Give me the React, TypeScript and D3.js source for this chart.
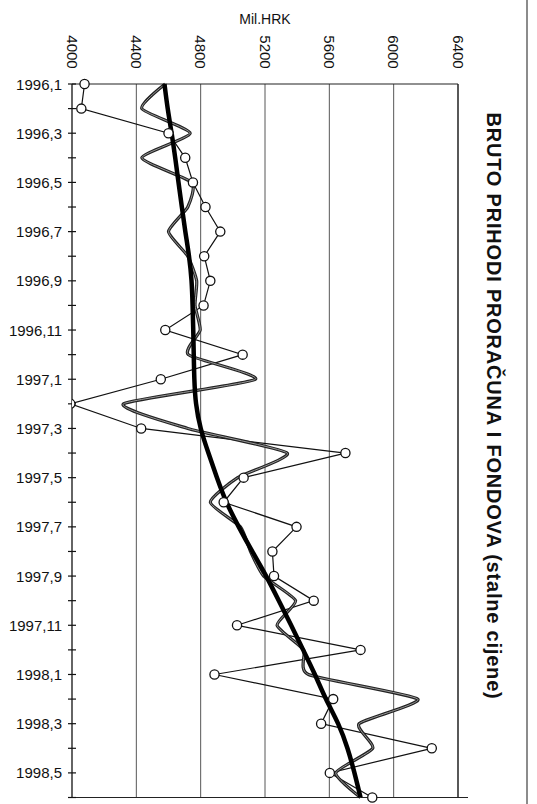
import React, { useRef, useEffect } from 'react';
import * as d3 from 'd3';

// months on the vertical (category) axis
const months = [
  '1996,1', '1996,2', '1996,3', '1996,4', '1996,5', '1996,6',
  '1996,7', '1996,8', '1996,9', '1996,10', '1996,11', '1996,12',
  '1997,1', '1997,2', '1997,3', '1997,4', '1997,5', '1997,6',
  '1997,7', '1997,8', '1997,9', '1997,10', '1997,11', '1997,12',
  '1998,1', '1998,2', '1998,3', '1998,4', '1998,5', '1998,6',
];

// original series (circles)
const original = [
  4078, 4058, 4600, 4704, 4752, 4830, 4922, 4822, 4860, 4818, 4580, 5061,
  4552, 3990, 4430, 5700, 5067, 4943, 5396, 5246, 5256, 5503, 5026, 5794,
  4886, 5624, 5549, 6237, 5603, 5867,
];

// smoothed (seasonally adjusted) series
const adjusted = [
  4579, 4434, 4735, 4434, 4745, 4720, 4600, 4720, 4775, 4765, 4797, 4723,
  5140, 4320, 4720, 5338, 5030, 4860, 5047, 5110, 5192, 5390, 5275, 5440,
  5470, 6150, 5785, 5870, 5640, 5794,
];

// trend line
const trend = [
  4575, 4594, 4620, 4642, 4662, 4683, 4704, 4729, 4745, 4750, 4754, 4757,
  4760, 4768, 4797, 4848, 4901, 4957, 5036, 5120, 5209, 5286, 5363, 5437,
  5512, 5576, 5659, 5715, 5757, 5794,
];

const valueTicks = [4000, 4400, 4800, 5200, 5600, 6000, 6400];

const title = 'BRUTO PRIHODI PRORAČUNA I FONDOVA (stalne cijene)';
const unitLabel = 'Mil.HRK';

const W = 537;
const H = 804;

const Chart: React.FC = () => {
  const svgRef = useRef<SVGSVGElement>(null);

  useEffect(() => {
    if (!svgRef.current) return;
    const svg = d3.select(svgRef.current);
    svg.selectAll('*').remove();

    const font = 'Arial, "Liberation Sans", Helvetica, sans-serif';
    const left = 72, right = 458, top = 84, bottom = 797.5;

    const x = d3.scaleLinear().domain([4000, 6400]).range([left, right]);
    const y = d3.scaleLinear().domain([0, months.length - 1]).range([top, bottom]);

    svg.append('rect').attr('width', W).attr('height', H).attr('fill', '#fff');

    // page border on the right
    svg.append('line')
      .attr('x1', 527).attr('x2', 527).attr('y1', 0).attr('y2', H)
      .attr('stroke', '#666').attr('stroke-width', 1.5);

    svg.append('defs').append('clipPath').attr('id', 'plot-clip')
      .append('rect')
      .attr('x', left).attr('y', top - 10)
      .attr('width', right - left + 10).attr('height', bottom - top + 20);

    // vertical gridlines
    svg.append('g')
      .selectAll('line')
      .data(valueTicks.slice(1))
      .join('line')
      .attr('x1', d => x(d)).attr('x2', d => x(d))
      .attr('y1', top).attr('y2', bottom)
      .attr('stroke', '#444').attr('stroke-width', 0.9);

    // frame top / bottom
    svg.append('line')
      .attr('x1', left).attr('x2', right).attr('y1', top).attr('y2', top)
      .attr('stroke', '#222').attr('stroke-width', 1.2);
    svg.append('line')
      .attr('x1', left).attr('x2', right + 10).attr('y1', bottom).attr('y2', bottom)
      .attr('stroke', '#222').attr('stroke-width', 1.2);

    // value axis labels (rotated)
    svg.append('g')
      .selectAll('text')
      .data(valueTicks)
      .join('text')
      .attr('transform', d => `translate(${x(d)},${52}) rotate(90)`)
      .attr('text-anchor', 'middle')
      .attr('dominant-baseline', 'central')
      .style('font-family', font)
      .style('font-size', '15px')
      .style('fill', '#111')
      .text(d => d);

    svg.append('text')
      .attr('x', 265).attr('y', 24)
      .attr('text-anchor', 'middle')
      .style('font-family', font)
      .style('font-size', '14px')
      .style('fill', '#111')
      .text(unitLabel);

    // category axis
    svg.append('line')
      .attr('x1', left).attr('x2', left).attr('y1', top).attr('y2', bottom)
      .attr('stroke', '#111').attr('stroke-width', 1.3);

    svg.append('g')
      .selectAll('line')
      .data(months)
      .join('line')
      .attr('x1', left - 4).attr('x2', left + 4)
      .attr('y1', (d, i) => y(i)).attr('y2', (d, i) => y(i))
      .attr('stroke', '#111').attr('stroke-width', 1.2);

    svg.append('g')
      .selectAll('text')
      .data(months.filter((d, i) => i % 2 === 0))
      .join('text')
      .attr('x', left - 10)
      .attr('y', d => y(months.indexOf(d)))
      .attr('text-anchor', 'end')
      .attr('dominant-baseline', 'central')
      .style('font-family', font)
      .style('font-size', '15px')
      .style('fill', '#111')
      .text(d => d);

    const plot = svg.append('g').attr('clip-path', 'url(#plot-clip)');

    // original series with markers
    const lineOrig = d3.line<number>()
      .x(d => x(d))
      .y((d, i) => y(i));
    plot.append('path')
      .datum(original)
      .attr('d', lineOrig)
      .attr('fill', 'none')
      .attr('stroke', '#111')
      .attr('stroke-width', 1.2);

    // seasonally adjusted, smoothed
    const lineAdj = d3.line<number>()
      .x(d => x(d))
      .y((d, i) => y(i))
      .curve(d3.curveCardinal.tension(0.45));
    plot.append('path')
      .datum(adjusted)
      .attr('d', lineAdj)
      .attr('fill', 'none')
      .attr('stroke', '#222')
      .attr('stroke-width', 3.2)
      .attr('stroke-linejoin', 'round');
    plot.append('path')
      .datum(adjusted)
      .attr('d', lineAdj)
      .attr('fill', 'none')
      .attr('stroke', '#999')
      .attr('stroke-width', 1);

    // trend
    const lineTrend = d3.line<number>()
      .x(d => x(d))
      .y((d, i) => y(i))
      .curve(d3.curveBasis);
    plot.append('path')
      .datum(trend)
      .attr('d', lineTrend)
      .attr('fill', 'none')
      .attr('stroke', '#000')
      .attr('stroke-width', 4.5);

    plot.append('g')
      .selectAll('circle')
      .data(original)
      .join('circle')
      .attr('cx', d => x(d))
      .attr('cy', (d, i) => y(i))
      .attr('r', 4.6)
      .attr('fill', '#fff')
      .attr('stroke', '#111')
      .attr('stroke-width', 1.3);

    // right frame
    svg.append('line')
      .attr('x1', right).attr('x2', right).attr('y1', top).attr('y2', bottom)
      .attr('stroke', '#222').attr('stroke-width', 1.2);

    // title, rotated
    svg.append('text')
      .attr('transform', `translate(494,406) rotate(90)`)
      .attr('text-anchor', 'middle')
      .attr('dominant-baseline', 'central')
      .style('font-family', font)
      .style('font-size', '20px')
      .style('font-weight', 'bold')
      .style('letter-spacing', '0.8px')
      .style('fill', '#111')
      .text(title);
  }, []);

  return <svg ref={svgRef} width={W} height={H} style={{ display: 'block' }} />;
};

export default function App() {
  return (
    <div style={{ position: 'absolute', left: 0, top: 0, width: W, height: H, background: '#fff' }}>
      <Chart />
    </div>
  );
}
